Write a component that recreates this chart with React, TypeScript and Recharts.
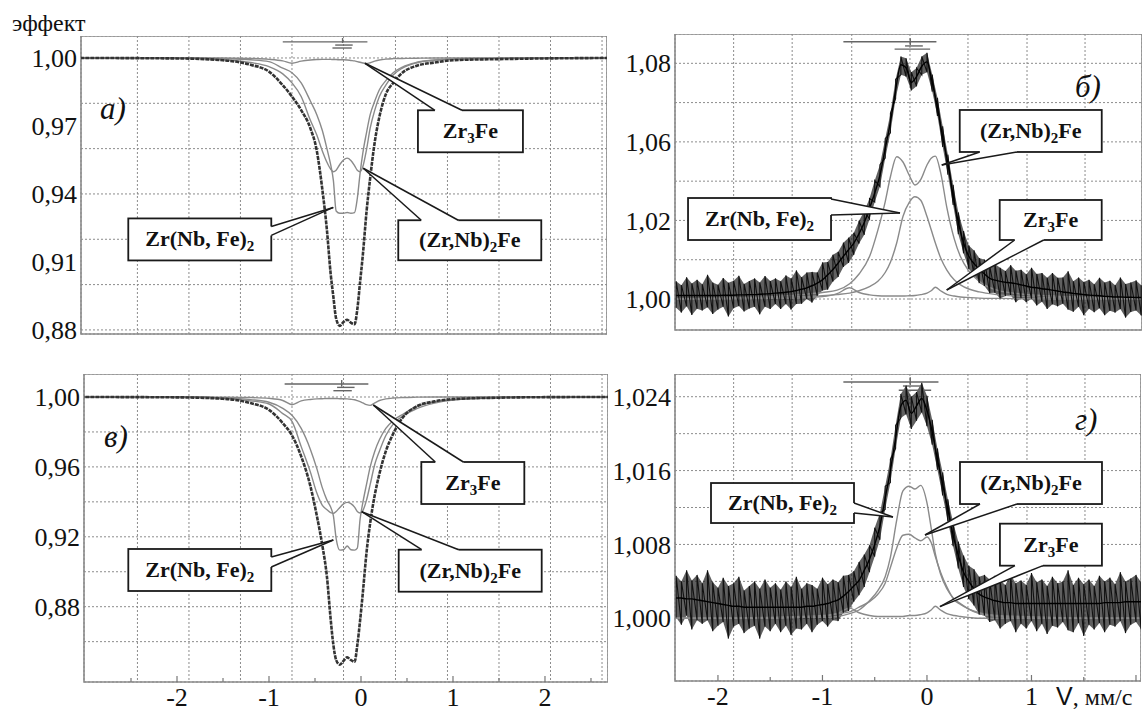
import React from 'react';
import {
  ComposedChart,
  Line,
  Area,
  XAxis,
  YAxis,
  CartesianGrid,
  ReferenceLine,
  ReferenceArea,
  ReferenceDot,
} from 'recharts';

const SERIF = 'Liberation Serif, Times New Roman, serif';
const SANS = 'Liberation Sans, Arial, sans-serif';
const serifStyle = { fontFamily: SERIF };

// ---- left column (а, в): velocity grid, mm/s
const vLeft = [-3.05, -2.0, -1.5, -1.2, -1.0, -0.85, -0.75, -0.65, -0.55, -0.48, -0.42, -0.37, -0.33, -0.3, -0.27, -0.23, -0.19, -0.15, -0.11, -0.07, -0.04, -0.01, 0.02, 0.06, 0.1, 0.15, 0.2, 0.27, 0.35, 0.45, 0.6, 0.8, 1.0, 1.5, 2.0, 2.7];

// panel а
const aTotal = [1.0, 0.9998, 0.999, 0.997, 0.994, 0.988, 0.983, 0.977, 0.969, 0.959, 0.942, 0.924, 0.905, 0.8946, 0.885, 0.8818, 0.8835, 0.8845, 0.8832, 0.8825, 0.889, 0.901, 0.913, 0.932, 0.947, 0.963, 0.974, 0.984, 0.989, 0.9935, 0.9965, 0.998, 0.999, 0.9995, 0.9998, 1.0];
const aZrNbFe2 = [1.0, 1.0, 0.9997, 0.9992, 0.9984, 0.9955, 0.9935, 0.989, 0.981, 0.975, 0.968, 0.96, 0.953, 0.946, 0.9325, 0.9315, 0.9315, 0.9318, 0.9315, 0.9318, 0.938, 0.949, 0.958, 0.967, 0.975, 0.981, 0.986, 0.99, 0.9935, 0.996, 0.998, 0.9991, 0.9996, 0.9999, 1.0, 1.0];
const aZrNb2Fe = [1.0, 1.0, 0.9992, 0.998, 0.9962, 0.993, 0.989, 0.983, 0.9725, 0.966, 0.959, 0.954, 0.951, 0.9498, 0.9505, 0.953, 0.955, 0.9558, 0.9548, 0.9525, 0.9505, 0.9498, 0.952, 0.9595, 0.969, 0.977, 0.983, 0.988, 0.9925, 0.9955, 0.9978, 0.999, 0.9995, 0.9999, 1.0, 1.0];
const aZr3Fe = [1.0, 1.0, 1.0, 0.9998, 0.9994, 0.9987, 0.9977, 0.9986, 0.9991, 0.9993, 0.9994, 0.9994, 0.9994, 0.9993, 0.9993, 0.9992, 0.9992, 0.9991, 0.9989, 0.9987, 0.9984, 0.9981, 0.9978, 0.9976, 0.9979, 0.9986, 0.9991, 0.9995, 0.9997, 0.9998, 0.9999, 1.0, 1.0, 1.0, 1.0, 1.0];

// panel в
const cTotal = [1.0, 0.9998, 0.999, 0.9965, 0.9926, 0.985, 0.978, 0.966, 0.949, 0.932, 0.915, 0.897, 0.873, 0.858, 0.8495, 0.8468, 0.849, 0.851, 0.8495, 0.8485, 0.858, 0.872, 0.888, 0.911, 0.928, 0.944, 0.956, 0.969, 0.979, 0.988, 0.9945, 0.9975, 0.9988, 0.9996, 0.9999, 1.0];
const cZrNbFe2 = [1.0, 1.0, 0.9995, 0.9985, 0.997, 0.9935, 0.9895, 0.982, 0.97, 0.959, 0.948, 0.941, 0.937, 0.932, 0.919, 0.9124, 0.9126, 0.9147, 0.9126, 0.9124, 0.9135, 0.93, 0.9395, 0.95, 0.96, 0.969, 0.9755, 0.982, 0.9865, 0.99, 0.9945, 0.9972, 0.9986, 0.9997, 1.0, 1.0];
const cZrNb2Fe = [1.0, 1.0, 0.9992, 0.9978, 0.996, 0.9905, 0.986, 0.9716, 0.957, 0.945, 0.938, 0.9355, 0.9338, 0.9334, 0.9345, 0.9368, 0.9388, 0.9397, 0.939, 0.937, 0.9345, 0.9336, 0.935, 0.941, 0.95, 0.9615, 0.969, 0.978, 0.9845, 0.989, 0.9932, 0.9965, 0.9982, 0.9996, 1.0, 1.0];
const cZr3Fe = [1.0, 1.0, 0.9999, 0.9997, 0.9992, 0.998, 0.9956, 0.9978, 0.9986, 0.9989, 0.999, 0.9991, 0.9991, 0.9991, 0.9991, 0.999, 0.999, 0.9989, 0.9987, 0.9984, 0.9979, 0.9973, 0.9966, 0.9956, 0.9952, 0.9966, 0.998, 0.9989, 0.9994, 0.9997, 0.9999, 1.0, 1.0, 1.0, 1.0, 1.0];

// ---- right column (б, г): fitted components
const vRight = [-2.45, -2.0, -1.5, -1.2, -1.0, -0.86, -0.74, -0.65, -0.55, -0.47, -0.4, -0.35, -0.29, -0.23, -0.17, -0.115, -0.06, 0.0, 0.04, 0.08, 0.13, 0.19, 0.26, 0.32, 0.4, 0.5, 0.67, 0.9, 1.2, 1.6, 2.1];

const bZrNb2Fe = [1.0, 1.0003, 1.0008, 1.0015, 1.0022, 1.003, 1.0052, 1.0085, 1.0144, 1.0234, 1.033, 1.0415, 1.0483, 1.0465, 1.042, 1.0387, 1.0405, 1.0455, 1.0478, 1.0485, 1.043, 1.031, 1.0205, 1.0144, 1.0095, 1.006, 1.003, 1.0017, 1.001, 1.0005, 1.0003];
const bZrNbFe2 = [1.0, 1.0002, 1.0005, 1.0008, 1.0011, 1.0015, 1.002, 1.0028, 1.0042, 1.006, 1.009, 1.0125, 1.019, 1.028, 1.0328, 1.0347, 1.0335, 1.028, 1.0235, 1.019, 1.014, 1.0098, 1.0065, 1.0048, 1.0034, 1.0024, 1.0015, 1.0009, 1.0005, 1.0003, 1.0002];
const bZr3Fe = [1.0, 1.0, 1.0002, 1.0004, 1.0008, 1.0018, 1.0038, 1.0022, 1.0014, 1.0011, 1.001, 1.001, 1.001, 1.001, 1.0011, 1.0012, 1.0015, 1.002, 1.0028, 1.004, 1.0028, 1.0016, 1.001, 1.0007, 1.0005, 1.0003, 1.0002, 1.0001, 1.0, 1.0, 1.0];

const gZrNbFe2 = [1.0, 1.0, 1.0, 1.0001, 1.0001, 1.0002, 1.0005, 1.0009, 1.0019, 1.003, 1.0045, 1.0066, 1.0106, 1.0138, 1.0143, 1.014, 1.0144, 1.0125, 1.0098, 1.007, 1.0048, 1.0032, 1.0021, 1.0016, 1.001, 1.0005, 1.0002, 1.0001, 1.0, 1.0, 1.0];
const gZrNb2Fe = [1.0, 1.0, 1.0001, 1.0002, 1.0003, 1.0005, 1.0007, 1.0012, 1.0018, 1.0026, 1.0038, 1.0055, 1.0076, 1.009, 1.0091, 1.0087, 1.0084, 1.0088, 1.0082, 1.0067, 1.005, 1.0034, 1.002, 1.0015, 1.001, 1.0006, 1.0003, 1.0002, 1.0001, 1.0, 1.0];
const gZr3Fe = [1.0, 1.0, 1.0, 1.0001, 1.0002, 1.0005, 1.0011, 1.0006, 1.0003, 1.0002, 1.0002, 1.0002, 1.0002, 1.0002, 1.0003, 1.0003, 1.0004, 1.0006, 1.0009, 1.0013, 1.0009, 1.0005, 1.0003, 1.0002, 1.0001, 1.0, 1.0, 1.0, 1.0, 1.0, 1.0];

// ---- right column: measured spectrum (channel velocity, fit level, scatter above / below)
const vNoise = [-2.4, -2.35, -2.3, -2.25, -2.2, -2.15, -2.1, -2.05, -2, -1.95, -1.9, -1.85, -1.8, -1.75, -1.7, -1.65, -1.6, -1.55, -1.5, -1.45, -1.4, -1.35, -1.3, -1.25, -1.2, -1.15, -1.1, -1.05, -1, -0.95, -0.9, -0.85, -0.8, -0.75, -0.7, -0.65, -0.6, -0.55, -0.5, -0.45, -0.4, -0.35, -0.3, -0.25, -0.2, -0.15, -0.1, -0.05, 0, 0.05, 0.1, 0.15, 0.2, 0.25, 0.3, 0.35, 0.4, 0.45, 0.5, 0.55, 0.6, 0.65, 0.7, 0.75, 0.8, 0.85, 0.9, 0.95, 1, 1.05, 1.1, 1.15, 1.2, 1.25, 1.3, 1.35, 1.4, 1.45, 1.5, 1.55, 1.6, 1.65, 1.7, 1.75, 1.8, 1.85, 1.9, 1.95, 2, 2.05];

const bFit = [
  1.0012, 1.0012, 1.0012, 1.0012, 1.0012, 1.0012, 1.0012, 1.0012, 1.0012, 1.0013,
  1.0013, 1.0013, 1.0014, 1.0014, 1.0015, 1.0015, 1.0016, 1.0017, 1.0018, 1.002,
  1.0021, 1.0023, 1.0025, 1.0029, 1.0033, 1.0038, 1.0045, 1.0054, 1.0065, 1.0082,
  1.01, 1.0122, 1.0145, 1.0167, 1.019, 1.0222, 1.026, 1.0308, 1.036, 1.042,
  1.051, 1.06, 1.071, 1.0795, 1.0785, 1.0735, 1.0755, 1.079, 1.0805, 1.0735,
  1.065, 1.055, 1.046, 1.035, 1.026, 1.019, 1.0145, 1.012, 1.01, 1.0085,
  1.007, 1.0064, 1.006, 1.0057, 1.0055, 1.0052, 1.0048, 1.0044, 1.004, 1.0038,
  1.0035, 1.0033, 1.003, 1.0027, 1.0024, 1.0022, 1.0019, 1.0017, 1.0015, 1.0013,
  1.0012, 1.0011, 1.0009, 1.0008, 1.0007, 1.0007, 1.0006, 1.0006, 1.0005, 1.0005,
];
const bUp = [
  0.0048, 0.0035, 0.0062, 0.0041, 0.0053, 0.0038, 0.007, 0.0044, 0.0036, 0.0058,
  0.0042, 0.0049, 0.0065, 0.0037, 0.0046, 0.0055, 0.004, 0.0061, 0.0043, 0.005,
  0.0039, 0.0057, 0.0045, 0.0068, 0.0041, 0.0052, 0.0047, 0.0036, 0.0059, 0.0044,
  0.005, 0.0038, 0.0046, 0.0041, 0.0035, 0.0044, 0.0039, 0.0033, 0.0042, 0.0036,
  0.0034, 0.003, 0.0036, 0.0028, 0.0032, 0.0035, 0.0029, 0.0033, 0.0031, 0.0027,
  0.0033, 0.0036, 0.003, 0.0038, 0.0034, 0.0041, 0.0037, 0.0045, 0.0039, 0.0048,
  0.0042, 0.0055, 0.0046, 0.0038, 0.006, 0.0044, 0.0051, 0.004, 0.0066, 0.0047,
  0.0053, 0.0039, 0.0058, 0.0045, 0.0049, 0.0072, 0.0041, 0.0056, 0.0043, 0.0052,
  0.0038, 0.0061, 0.0047, 0.0054, 0.004, 0.0066, 0.0045, 0.005, 0.0058, 0.0042,
];
const bDn = [
  0.0042, 0.0058, 0.0037, 0.0066, 0.0045, 0.0051, 0.004, 0.0063, 0.0048, 0.0039,
  0.0072, 0.0044, 0.0038, 0.0056, 0.0047, 0.0041, 0.0068, 0.0043, 0.0052, 0.0037,
  0.0055, 0.004, 0.0061, 0.0046, 0.0049, 0.0038, 0.0057, 0.0043, 0.0036, 0.005,
  0.0041, 0.0047, 0.0036, 0.0044, 0.004, 0.0034, 0.0042, 0.0037, 0.0031, 0.0038,
  0.0032, 0.0036, 0.0029, 0.0034, 0.003, 0.0027, 0.0033, 0.0029, 0.0035, 0.0031,
  0.0029, 0.0034, 0.0038, 0.0031, 0.004, 0.0035, 0.0043, 0.0038, 0.0046, 0.0041,
  0.005, 0.0043, 0.0058, 0.0047, 0.0041, 0.0063, 0.0045, 0.0055, 0.0039, 0.006,
  0.0044, 0.0067, 0.0048, 0.0052, 0.004, 0.0058, 0.0062, 0.0043, 0.007, 0.0046,
  0.0057, 0.0042, 0.0064, 0.0048, 0.0053, 0.0041, 0.0069, 0.005, 0.0044, 0.0061,
];

const gFit = [
  1.0022, 1.0022, 1.0021, 1.0021, 1.002, 1.0019, 1.0018, 1.0017, 1.0016, 1.0015,
  1.0014, 1.0013, 1.0013, 1.0012, 1.0012, 1.0012, 1.0012, 1.0012, 1.0012, 1.0012,
  1.0012, 1.0012, 1.0012, 1.0012, 1.0012, 1.0013, 1.0013, 1.0014, 1.0015, 1.0016,
  1.0018, 1.002, 1.0024, 1.0029, 1.0035, 1.0041, 1.0052, 1.0064, 1.008, 1.01,
  1.013, 1.016, 1.0195, 1.023, 1.0236, 1.0222, 1.023, 1.0238, 1.0225, 1.0202,
  1.0172, 1.0145, 1.0118, 1.009, 1.0068, 1.005, 1.004, 1.0032, 1.0026, 1.0023,
  1.0021, 1.0019, 1.0018, 1.0017, 1.0017, 1.0016, 1.0016, 1.0016, 1.0016, 1.0016,
  1.0016, 1.0016, 1.0016, 1.0016, 1.0016, 1.0016, 1.0016, 1.0016, 1.0016, 1.0016,
  1.0016, 1.0016, 1.0017, 1.0017, 1.0017, 1.0017, 1.0018, 1.0018, 1.0018, 1.0018,
];
const gUp = [
  0.0024, 0.0018, 0.0031, 0.002, 0.0027, 0.0019, 0.0034, 0.0022, 0.0017, 0.0029,
  0.0021, 0.0025, 0.0032, 0.0018, 0.0023, 0.0028, 0.002, 0.003, 0.0021, 0.0026,
  0.0019, 0.0028, 0.0022, 0.0033, 0.002, 0.0025, 0.0023, 0.0018, 0.0029, 0.0021,
  0.0024, 0.0019, 0.0022, 0.0018, 0.0016, 0.002, 0.0017, 0.0015, 0.0018, 0.0014,
  0.0013, 0.0012, 0.0014, 0.0013, 0.0016, 0.0018, 0.0015, 0.0017, 0.0016, 0.0013,
  0.0012, 0.0013, 0.0011, 0.0014, 0.0015, 0.0018, 0.0017, 0.0021, 0.0019, 0.0024,
  0.0021, 0.0027, 0.0023, 0.0019, 0.003, 0.0022, 0.0025, 0.002, 0.0033, 0.0023,
  0.0026, 0.0019, 0.0029, 0.0022, 0.0024, 0.0036, 0.002, 0.0028, 0.0021, 0.0026,
  0.0019, 0.003, 0.0023, 0.0027, 0.002, 0.0033, 0.0022, 0.0025, 0.0029, 0.0021,
];
const gDn = [
  0.0021, 0.0029, 0.0018, 0.0033, 0.0022, 0.0025, 0.002, 0.0031, 0.0024, 0.0019,
  0.0036, 0.0022, 0.0019, 0.0028, 0.0023, 0.002, 0.0034, 0.0021, 0.0026, 0.0018,
  0.0027, 0.002, 0.003, 0.0023, 0.0024, 0.0019, 0.0028, 0.0021, 0.0018, 0.0025,
  0.002, 0.0023, 0.0018, 0.0021, 0.0017, 0.0016, 0.0018, 0.0014, 0.0013, 0.0015,
  0.0012, 0.0013, 0.0011, 0.0013, 0.0015, 0.0017, 0.0016, 0.0015, 0.0017, 0.0014,
  0.0011, 0.0012, 0.0013, 0.0012, 0.0014, 0.0016, 0.0019, 0.0018, 0.0022, 0.002,
  0.0025, 0.0021, 0.0029, 0.0023, 0.002, 0.0031, 0.0022, 0.0027, 0.0019, 0.003,
  0.0022, 0.0033, 0.0024, 0.0026, 0.002, 0.0029, 0.0031, 0.0021, 0.0035, 0.0023,
  0.0028, 0.0021, 0.0032, 0.0024, 0.0026, 0.002, 0.0034, 0.0025, 0.0022, 0.003,
];

// ---- axes
const xTicksLeft = [-2.5, -2, -1.5, -1, -0.5, 0, 0.5, 1, 1.5, 2, 2.5];
const xLabelsLeft = ['-2', '-1', '0', '1', '2'];
const xTicksRight = [-2, -1.5, -1, -0.5, 0, 0.5, 1, 1.5, 2];
const xLabelsRight = ['-2', '-1', '0', '1'];
const gridXLeft = [-2.43, -1.87, -1.31, -0.75, -0.19, 0.375, 0.94, 1.5, 2.06, 2.62];
const gridXRight = [-1.85, -1.29, -0.72, -0.163, 0.392, 0.957, 1.512];

const aYTicks = [0.88, 0.91, 0.94, 0.97, 1.0];
const aYLabels = ['0,88', '0,91', '0,94', '0,97', '1,00'];
const aGridY = [0.88, 0.89, 0.9, 0.91, 0.92, 0.93, 0.94, 0.95, 0.96, 0.97, 0.98, 0.99, 1.0];
const bYTicks = [1.0, 1.02667, 1.05333, 1.08];
const bYLabels = ['1,00', '1,02', '1,06', '1,08'];
const bGridY = [1.0, 1.01333, 1.02667, 1.04, 1.05333, 1.06667, 1.08];
const cYTicks = [0.88, 0.92, 0.96, 1.0];
const cYLabels = ['0,88', '0,92', '0,96', '1,00'];
const cGridY = [0.86, 0.88, 0.9, 0.92, 0.94, 0.96, 0.98, 1.0];
const gYTicks = [1.0, 1.008, 1.016, 1.024];
const gYLabels = ['1,000', '1,008', '1,016', '1,024'];
const gGridY = [1.0, 1.004, 1.008, 1.012, 1.016, 1.02, 1.024];

// line-position sticks above each spectrum: [v1, y1, v2, y2]
type Seg = [number, number, number, number];
const aSticks: Seg[] = [[-0.85, 1.0071, 0.07, 1.0071], [-0.2, 1.0066, -0.2, 1.0088], [-0.28, 1.0057, -0.09, 1.0057], [-0.31, 1.0044, -0.1, 1.0044]];
const bSticks: Seg[] = [[-0.8, 1.0873, 0.09, 1.0873], [-0.16, 1.0862, -0.16, 1.0885], [-0.21, 1.0859, -0.04, 1.0859], [-0.31, 1.0848, 0.03, 1.0848]];
const cSticks: Seg[] = [[-0.83, 1.0074, 0.08, 1.0074], [-0.21, 1.0059, -0.21, 1.0097], [-0.26, 1.0055, -0.07, 1.0055], [-0.3, 1.0036, -0.1, 1.0036]];
const gSticks: Seg[] = [[-0.8, 1.0256, 0.11, 1.0256], [-0.16, 1.02527, -0.16, 1.0261], [-0.23, 1.02516, -0.04, 1.02516], [-0.27, 1.0247, 0.04, 1.0247]];

// callout labels
type Part = [string, boolean];
const ZR3FE: Part[] = [['Zr', false], ['3', true], ['Fe', false]];
const ZRNB2FE: Part[] = [['(Zr,Nb)', false], ['2', true], ['Fe', false]];
const ZRNBFE2: Part[] = [['Zr(Nb, Fe)', false], ['2', true]];

type Callout = {
  parts: Part[];
  v: number;
  y: number;
  box: [number, number, number, number];
  b1: [number, number];
  b2: [number, number];
  edge: 't' | 'b' | 'r';
};

const aCallouts: Callout[] = [
  { parts: ZR3FE, v: 0.043, y: 0.99766, box: [53, 47, 105, 42], b1: [70, 47], b2: [97, 47], edge: 't' },
  { parts: ZRNB2FE, v: 0.025, y: 0.95134, box: [35, 52, 143, 40], b1: [58, 52], b2: [95, 52], edge: 't' },
  { parts: ZRNBFE2, v: -0.301, y: 0.93405, box: [-205, 11, 143, 42], b1: [-62, 19], b2: [-62, 28], edge: 'r' },
];
const cCallouts: Callout[] = [
  { parts: ZR3FE, v: 0.134, y: 0.99542, box: [48, 57, 103, 42], b1: [62, 57], b2: [90, 57], edge: 't' },
  { parts: ZRNB2FE, v: 0.0076, y: 0.93436, box: [37, 38, 143, 42], b1: [60, 38], b2: [97, 38], edge: 't' },
  { parts: ZRNBFE2, v: -0.301, y: 0.91817, box: [-205, 9, 143, 42], b1: [-62, 17], b2: [-62, 27], edge: 'r' },
];
const bCallouts: Callout[] = [
  { parts: ZRNB2FE, v: 0.141, y: 1.04549, box: [18, -55, 142, 42], b1: [38, -13], b2: [75, -13], edge: 'b' },
  { parts: ZR3FE, v: 0.1885, y: 1.00306, box: [53, -90, 102, 40], b1: [68, -50], b2: [97, -50], edge: 'b' },
  { parts: ZRNBFE2, v: -0.258, y: 1.02919, box: [-212, -15, 143, 42], b1: [-69, -14], b2: [-69, 2], edge: 'r' },
];
const gCallouts: Callout[] = [
  { parts: ZRNB2FE, v: -0.019, y: 1.00902, box: [35, -73, 142, 42], b1: [55, -31], b2: [92, -31], edge: 'b' },
  { parts: ZR3FE, v: 0.124, y: 1.00126, box: [60, -83, 102, 42], b1: [75, -41], b2: [103, -41], edge: 'b' },
  { parts: ZRNBFE2, v: -0.325, y: 1.01097, box: [-182, -34, 143, 40], b1: [-39, -14], b2: [-39, -4], edge: 'r' },
];

const pts = (xs: number[], ys: number[]) => xs.map((v, i) => ({ v, y: ys[i] }));
const zigzag = (fit: number[], up: number[], dn: number[]) =>
  vNoise.flatMap((v, i) => [{ v, y: fit[i] - dn[i] }, { v, y: fit[i] + up[i] }]);
const band = (fit: number[], up: number[], dn: number[]) =>
  vNoise.map((v, i) => ({ v, band: [fit[i] - dn[i], fit[i] + up[i]] }));

function calloutShape(c: Callout) {
  return (props: any) => {
    const { cx, cy } = props;
    if (cx == null || cy == null) return <g />;
    const [bx, by, bw, bh] = c.box;
    const p1 = [cx + c.b1[0], cy + c.b1[1]];
    const p2 = [cx + c.b2[0], cy + c.b2[1]];
    const d = c.edge === 't' ? [0, 2] : c.edge === 'b' ? [0, -2] : [-2, 0];
    const poly = [
      [cx, cy], p1, [p1[0] + d[0], p1[1] + d[1]], [p2[0] + d[0], p2[1] + d[1]], p2,
    ].map((q) => q.join(',')).join(' ');
    return (
      <g>
        <rect x={cx + bx} y={cy + by} width={bw} height={bh} fill="#fff" stroke="#1a1a1a" strokeWidth={1.8} />
        <polygon points={poly} fill="#fff" stroke="none" />
        <line x1={cx} y1={cy} x2={p1[0]} y2={p1[1]} stroke="#1a1a1a" strokeWidth={1.5} />
        <line x1={cx} y1={cy} x2={p2[0]} y2={p2[1]} stroke="#1a1a1a" strokeWidth={1.5} />
        <text x={cx + bx + bw / 2} y={cy + by + bh / 2 + 7} textAnchor="middle" style={serifStyle} fontWeight="bold" fontSize={22} fill="#111">
          {c.parts.map(([t, sub], i) => (
            <tspan key={i} fontSize={sub ? 15 : 22} dy={sub ? 5 : i > 0 && c.parts[i - 1][1] ? -5 : 0}>{t}</tspan>
          ))}
        </text>
      </g>
    );
  };
}

function makeVTick(labels: string[]) {
  return (props: any) => {
    const { x, y, payload } = props;
    const v = payload.value;
    const lbl = labels.find((l) => Number(l) === v);
    const major = Number.isInteger(v);
    return (
      <g>
        <line x1={x} x2={x} y1={y} y2={y - (major ? 6 : 4)} stroke="#777" strokeWidth={1.2} />
        {lbl !== undefined && (
          <text x={x} y={y + 24} textAnchor="middle" fontSize={26} style={serifStyle} fill="#111">{lbl}</text>
        )}
      </g>
    );
  };
}

function makeYTick(ticks: number[], labels: string[]) {
  return (props: any) => {
    const { x, y, payload } = props;
    const lbl = labels[ticks.indexOf(payload.value)] ?? '';
    return (
      <text x={x} y={y} dy="0.35em" textAnchor="end" fontSize={26} style={serifStyle} fill="#111">{lbl}</text>
    );
  };
}

type PanelProps = {
  left: number;
  top: number;
  yAxisW: number;
  plotW: number;
  plotH: number;
  axisH: number;
  xd: [number, number];
  yd: [number, number];
  gridX: number[];
  gridY: number[];
  yTicks: number[];
  yLabels: string[];
  xTicks?: number[];
  xLabels?: string[];
  comps: { v: number; y: number }[][];
  total?: { v: number; y: number }[];
  noise?: { zig: { v: number; y: number }[]; band: { v: number; band: number[] }[]; fit: { v: number; y: number }[] };
  sticks: Seg[];
  callouts: Callout[];
};

function Panel(p: PanelProps) {
  const width = p.yAxisW + p.plotW;
  // top panels have no x axis, keep a little room so the lowest tick label is not clipped
  const bottomPad = p.xTicks ? 0 : 14;
  const height = p.plotH + p.axisH + bottomPad;
  return (
    <div style={{ position: 'absolute', left: p.left, top: p.top, width, height }}>
      <ComposedChart width={width} height={height} margin={{ top: 0, right: 0, bottom: bottomPad, left: 0 }}>
        <XAxis xAxisId="g" dataKey="v" type="number" domain={p.xd} allowDataOverflow ticks={p.gridX} hide />
        <YAxis yAxisId="g" type="number" domain={p.yd} allowDataOverflow ticks={p.gridY} hide />
        <CartesianGrid xAxisId="g" yAxisId="g" stroke="#8c8c8c" strokeDasharray="2 2" strokeWidth={1} />
        <XAxis
          dataKey="v"
          type="number"
          domain={p.xd}
          allowDataOverflow
          hide={!p.xTicks}
          ticks={p.xTicks}
          interval={0}
          height={p.axisH}
          axisLine={false}
          tickLine={false}
          tickSize={0}
          tickMargin={0}
          tick={p.xTicks ? makeVTick(p.xLabels || []) : false}
        />
        <YAxis
          type="number"
          domain={p.yd}
          allowDataOverflow
          ticks={p.yTicks}
          interval={0}
          width={p.yAxisW}
          axisLine={false}
          tickLine={false}
          tickSize={0}
          tickMargin={4}
          tick={makeYTick(p.yTicks, p.yLabels)}
        />
        <ReferenceArea x1={p.xd[0]} x2={p.xd[1]} y1={p.yd[0]} y2={p.yd[1]} fill="none" stroke="#8a8a8a" strokeWidth={1.6} ifOverflow="visible" />
        {p.sticks.map((s, i) => (
          <ReferenceLine key={'s' + i} segment={[{ x: s[0], y: s[1] }, { x: s[2], y: s[3] }]} stroke="#666" strokeWidth={1.4} />
        ))}
        {p.comps.map((d, i) => (
          <Line key={'c' + i} data={d} dataKey="y" type="monotone" stroke="#8a8a8a" strokeWidth={1.4} dot={false} isAnimationActive={false} />
        ))}
        {p.noise && (
          <Area data={p.noise.band} dataKey="band" type="linear" stroke="none" fill="#222" fillOpacity={0.72} isAnimationActive={false} />
        )}
        {p.noise && (
          <Line data={p.noise.zig} dataKey="y" type="linear" stroke="#111" strokeWidth={1.1} dot={false} isAnimationActive={false} />
        )}
        {p.noise && (
          <Line data={p.noise.fit} dataKey="y" type="monotone" stroke="#000" strokeWidth={1.4} dot={false} isAnimationActive={false} />
        )}
        {p.total && (
          <Line data={p.total} dataKey="y" type="monotone" stroke="#333" strokeWidth={2.6} strokeDasharray="4 1" dot={false} isAnimationActive={false} />
        )}
        {p.callouts.map((c, i) => (
          <ReferenceDot key={'k' + i} x={c.v} y={c.y} r={0} ifOverflow="visible" shape={calloutShape(c)} />
        ))}
      </ComposedChart>
    </div>
  );
}

export default function App() {
  return (
    <div style={{ position: 'absolute', left: 0, top: 0, width: 1146, height: 714, overflow: 'hidden', background: '#fff' }}>
      <Panel
        left={0} top={36} yAxisW={81} plotW={526} plotH={298} axisH={0}
        xd={[-3.043, 2.674]} yd={[0.8782, 1.0097]}
        gridX={gridXLeft} gridY={aGridY} yTicks={aYTicks} yLabels={aYLabels}
        comps={[pts(vLeft, aZr3Fe), pts(vLeft, aZrNb2Fe), pts(vLeft, aZrNbFe2)]}
        total={pts(vLeft, aTotal)}
        sticks={aSticks} callouts={aCallouts}
      />
      <Panel
        left={600} top={34} yAxisW={75} plotW={467} plotH={296} axisH={0}
        xd={[-2.411, 2.057]} yd={[0.98948, 1.08995]}
        gridX={gridXRight} gridY={bGridY} yTicks={bYTicks} yLabels={bYLabels}
        comps={[pts(vRight, bZr3Fe), pts(vRight, bZrNb2Fe), pts(vRight, bZrNbFe2)]}
        noise={{ zig: zigzag(bFit, bUp, bDn), band: band(bFit, bUp, bDn), fit: pts(vNoise, bFit) }}
        sticks={bSticks} callouts={bCallouts}
      />
      <Panel
        left={0} top={374} yAxisW={84} plotW={524} plotH={308} axisH={40}
        xd={[-3.011, 2.685]} yd={[0.83691, 1.01316]}
        gridX={gridXLeft} gridY={cGridY} yTicks={cYTicks} yLabels={cYLabels}
        xTicks={xTicksLeft} xLabels={xLabelsLeft}
        comps={[pts(vLeft, cZr3Fe), pts(vLeft, cZrNb2Fe), pts(vLeft, cZrNbFe2)]}
        total={pts(vLeft, cTotal)}
        sticks={cSticks} callouts={cCallouts}
      />
      <Panel
        left={600} top={374} yAxisW={75} plotW={466} plotH={307} axisH={40}
        xd={[-2.411, 2.048]} yd={[0.99321, 1.02646]}
        gridX={gridXRight} gridY={gGridY} yTicks={gYTicks} yLabels={gYLabels}
        xTicks={xTicksRight} xLabels={xLabelsRight}
        comps={[pts(vRight, gZr3Fe), pts(vRight, gZrNb2Fe), pts(vRight, gZrNbFe2)]}
        noise={{ zig: zigzag(gFit, gUp, gDn), band: band(gFit, gUp, gDn), fit: pts(vNoise, gFit) }}
        sticks={gSticks} callouts={gCallouts}
      />
      <svg width={1146} height={714} style={{ position: 'absolute', left: 0, top: 0, pointerEvents: 'none' }}>
        <text x={12} y={31} style={serifStyle} fontSize={24} fill="#111">эффект</text>
        <text x={100} y={119} style={serifStyle} fontStyle="italic" fontSize={31} fill="#111">а)</text>
        <text x={1075} y={97} style={serifStyle} fontStyle="italic" fontSize={31} fill="#111">б)</text>
        <text x={104} y={447} style={serifStyle} fontStyle="italic" fontSize={31} fill="#111">в)</text>
        <text x={1075} y={430} style={serifStyle} fontStyle="italic" fontSize={31} fill="#111">г)</text>
        <text x={1056} y={705} fill="#111">
          <tspan style={{ fontFamily: SANS }} fontSize={25}>V</tspan>
          <tspan style={serifStyle} fontSize={24}>, мм/с</tspan>
        </text>
      </svg>
    </div>
  );
}
